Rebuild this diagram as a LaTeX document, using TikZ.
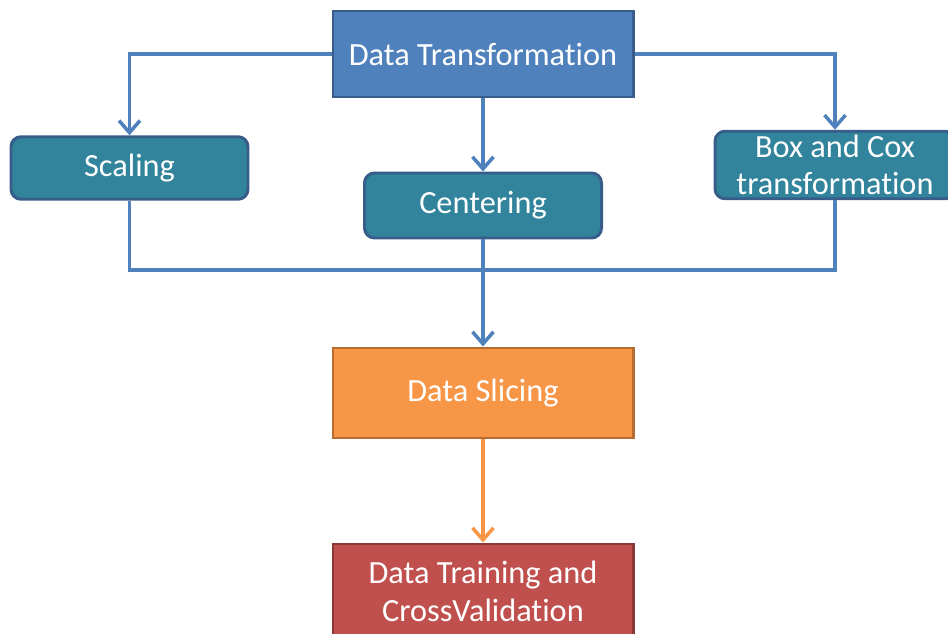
\documentclass[tikz,border=0pt]{standalone}
\usepackage{fontspec}
\setmainfont{Carlito}[Ligatures=NoCommon]
\usepackage{tikz}
\usetikzlibrary{arrows.meta}
\usetikzlibrary{positioning}
\definecolor{df-blue}{HTML}{4F81BD}
\definecolor{df-blueline}{HTML}{385D8A}
\definecolor{df-teal}{HTML}{31849B}
\definecolor{df-orange}{HTML}{F79646}
\definecolor{df-orangeline}{HTML}{B66D31}
\definecolor{df-red}{HTML}{C0504D}
\definecolor{df-redline}{HTML}{8C3836}

\begin{document}
\begin{tikzpicture}[
    box/.style={draw, line width=1.7pt, text=white, align=center,
        font=\fontsize{18.4}{21.5}\selectfont, inner sep=2pt},
    stepbox/.style={box, fill=df-teal, draw=df-blueline, rounded corners=0.2cm,
        minimum width=4.74cm, minimum height=1.25cm},
    flow/.style={df-blue, line width=2.1pt,
        -{Straight Barb[length=0.24cm, width=0.42cm, line width=2pt]}},
    link/.style={df-blue, line width=2.1pt}
]
    % Tamanho da folha
    \useasboundingbox (0,0) rectangle (18.96,12.66);

    % Caixa principal
    \node[box, fill=df-blue, draw=df-blueline, minimum width=6cm, minimum height=1.72cm]
        (trans) at (9.66,11.58) {Data Transformation};

    % Tres transformacoes
    \node[stepbox] (scaling) at (2.59,9.3) {Scaling};
    \node[stepbox, minimum height=1.3cm] (centering) at (9.66,8.55) {Centering};
    \node[stepbox, minimum width=4.8cm, minimum height=1.32cm] (boxcox) at (16.7,9.36)
        {Box and Cox\\transformation};

    % Etapas finais
    \node[box, fill=df-orange, draw=df-orangeline, minimum width=6cm, minimum height=1.8cm]
        (slicing) at (9.66,4.8) {Data Slicing};
    \node[box, fill=df-red, draw=df-redline, minimum width=6cm, minimum height=1.88cm]
        (training) at (9.66,0.84) {Data Training and\\CrossValidation};

    % Ramificacoes a partir da transformacao
    \draw[flow] (trans.west) -| (scaling.north);
    \draw[flow] (trans.east) -| (boxcox.north);
    \draw[flow] (trans.south) -- (centering.north);

    % Juncao das tres caixas
    \coordinate (merge) at (9.66,7.26);
    \draw[link] (scaling.south) |- (merge) -| (boxcox.south);
    \draw[flow] (centering.south) -- (slicing.north);

    \draw[flow, df-orange] (slicing.south) -- (training.north);

\end{tikzpicture}
\end{document}
